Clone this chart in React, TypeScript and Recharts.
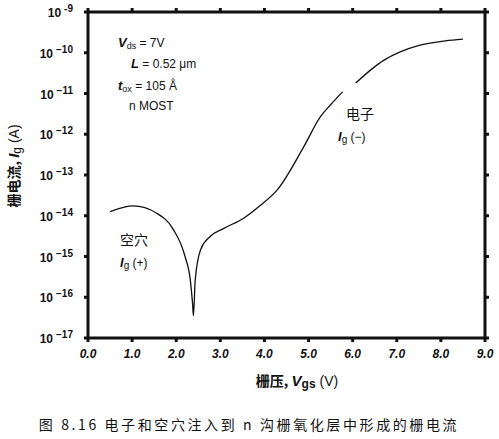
import { LineChart, Line, XAxis, YAxis } from 'recharts'

// gate voltage Vgs (V) and gate current Ig (A)
const vgs = [0.5, 1.02, 1.56, 1.94, 2.2, 2.32, 2.37, 2.39, 2.43, 2.55, 2.77, 3.08, 3.53, 3.91, 4.29, 4.89, 5.27, 5.5, 5.77, 5.9, 6.07, 6.41, 6.71, 7.09, 7.47, 7.8, 8.1, 8.5]
const ig = [1.26e-14, 1.74e-14, 1.15e-14, 4.5e-15, 1.0e-15, 2.6e-16, 7e-17, 3.5e-17, 2.6e-16, 1.45e-15, 3.1e-15, 4.9e-15, 8.7e-15, 1.8e-14, 4.3e-14, 4.9e-13, 2.7e-12, 5.3e-12, 1.1e-11, null, 1.8e-11, 3.8e-11, 6.6e-11, 1.07e-10, 1.48e-10, 1.75e-10, 1.95e-10, 2.15e-10]

const xTicks = [0, 1, 2, 3, 4, 5, 6, 7, 8, 9]
const yTicks = [1e-17, 1e-16, 1e-15, 1e-14, 1e-13, 1e-12, 1e-11, 1e-10, 1e-9]

const data = vgs.map((v, i) => ({ v, ig: ig[i] }))

const FONT = 'Arial, "Liberation Sans", sans-serif'
const CJK = '"Noto Sans CJK SC", sans-serif'

const YTick = ({ x, y, payload }: any) => {
  const exp = Math.round(Math.log10(payload.value))
  const sup = exp === -9 ? '-9' : `−${-exp}`
  return (
    <text x={x - 9} y={y + 5} textAnchor="end" fontSize={12} fontWeight="bold" fill="#111" fontFamily={FONT}>
      10<tspan dx={3} dy={-5} fontSize={10}>{sup}</tspan>
    </text>
  )
}

const XTick = ({ x, y, payload }: any) => (
  <text x={x} y={y + 14} textAnchor="middle" fontSize={12} fontWeight="bold" fontStyle="italic" fill="#111" fontFamily={FONT}>
    {payload.value.toFixed(1)}
  </text>
)

const Empty = () => <g />

export default function App() {
  return (
    <div style={{ position: 'absolute', left: 0, top: 0, width: 499, height: 439, background: '#fff' }}>
      <LineChart width={499} height={439} data={data} margin={{ top: 11, right: 13, bottom: 71, left: 28 }}>
        <XAxis dataKey="v" type="number" domain={[0, 9]} ticks={xTicks} tick={<XTick />}
          stroke="#111" strokeWidth={3} tickSize={4} height={30} />
        <XAxis xAxisId="top" orientation="top" dataKey="v" type="number" domain={[0, 9]} ticks={xTicks}
          tick={<Empty />} stroke="#111" strokeWidth={3} tickSize={4} height={1} />
        <YAxis scale="log" domain={[1e-17, 1e-9]} ticks={yTicks} tick={<YTick />} allowDataOverflow
          stroke="#111" strokeWidth={3} tickSize={4} width={60} />
        <YAxis yAxisId="right" orientation="right" scale="log" domain={[1e-17, 1e-9]} ticks={yTicks} allowDataOverflow
          tick={<Empty />} stroke="#111" strokeWidth={3} tickSize={4} width={1} />
        <Line dataKey="ig" type="monotone" stroke="#111" strokeWidth={1.3} dot={false} isAnimationActive={false} />
      </LineChart>
      <svg width={499} height={439} style={{ position: 'absolute', left: 0, top: 0, pointerEvents: 'none' }}>
        <g fill="#111" fontFamily={FONT} fontSize={12}>
          <text x={118} y={47}><tspan fontStyle="italic" fontWeight="bold" fontSize={13}>V</tspan><tspan fontSize={9} dy={2}>ds</tspan><tspan dy={-2}> = 7V</tspan></text>
          <text x={131} y={68}><tspan fontStyle="italic" fontWeight="bold" fontSize={13}>L</tspan> = 0.52 μm</text>
          <text x={118} y={90}><tspan fontStyle="italic" fontWeight="bold" fontSize={13}>t</tspan><tspan fontSize={9} dy={2}>ox</tspan><tspan dy={-2}> = 105 Å</tspan></text>
          <text x={129} y={110}>n MOST</text>
          <text x={346} y={119} fontFamily={CJK} fontSize={14}>电子</text>
          <text x={338} y={141}><tspan fontStyle="italic" fontWeight="bold" fontSize={13}>I</tspan><tspan fontSize={10} dy={2}>g</tspan><tspan dy={-2}> (−)</tspan></text>
          <text x={120} y={245} fontFamily={CJK} fontSize={14}>空穴</text>
          <text x={120} y={267}><tspan fontStyle="italic" fontWeight="bold" fontSize={13}>I</tspan><tspan fontSize={10} dy={2}>g</tspan><tspan dy={-2}> (+)</tspan></text>
          <text x={297} y={386} textAnchor="middle" fontSize={14}>
            <tspan fontFamily={CJK} fontWeight="bold">栅压, </tspan><tspan fontStyle="italic" fontWeight="bold" fontSize={15}>V</tspan><tspan fontSize={12} fontWeight="bold" dy={2}>gs</tspan><tspan dy={-2}> (V)</tspan>
          </text>
          <text transform="translate(19,166) rotate(-90)" textAnchor="middle" fontSize={14}>
            <tspan fontFamily={CJK} fontWeight="bold">栅电流, </tspan><tspan fontStyle="italic" fontWeight="bold" fontSize={15}>I</tspan><tspan fontSize={12} dy={2}>g</tspan><tspan dy={-2}> (A)</tspan>
          </text>
          <text x={249} y={430} textAnchor="middle" fontFamily={CJK} fontSize={14} letterSpacing={2.6}>图 8.16    电子和空穴注入到 n 沟栅氧化层中形成的栅电流</text>
        </g>
      </svg>
    </div>
  )
}
